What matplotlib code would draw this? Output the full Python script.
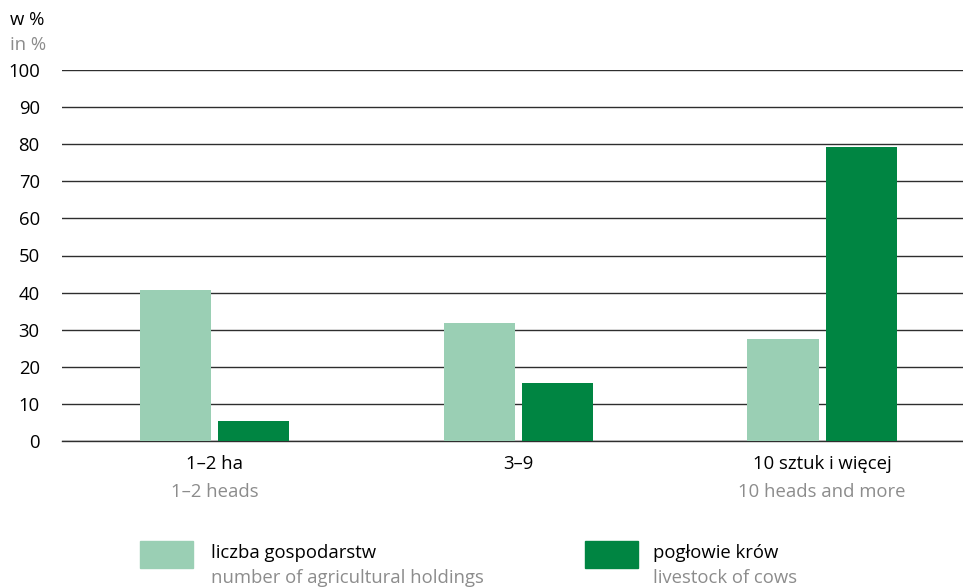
import matplotlib
matplotlib.use("Agg")
import matplotlib.pyplot as plt
import matplotlib.transforms as mtransforms
from matplotlib.patches import Rectangle
import numpy as np

plt.rcParams['font.family'] = ['Open Sans', 'DejaVu Sans']

# Dane
kategorie_pl = ['1–2 ha', '3–9', '10 sztuk i więcej']
kategorie_en = ['1–2 heads', '', '10 heads and more']
gospodarstwa = [40.6, 31.9, 27.5]
poglowie = [5.3, 15.6, 79.2]
seria_pl = ['liczba gospodarstw', 'pogłowie krów']
seria_en = ['number of agricultural holdings', 'livestock of cows']
yticks = list(range(0, 101, 10))

JASNY = '#9acfb4'
CIEMNY = '#008542'
SZARY = '#8c8c8c'
FS = 13.3

fig = plt.figure(figsize=(9.63, 5.87), dpi=100)
ax = fig.add_axes([62 / 963, 1 - 441 / 587, 1 - 62 / 963, (441 - 70) / 587])

x = np.arange(len(kategorie_pl))
w = 0.234
off = 0.1285
ax.bar(x - off, gospodarstwa, w, color=JASNY, zorder=3)
ax.bar(x + off, poglowie, w, color=CIEMNY, zorder=3)

ax.set_ylim(0, 100)
ax.set_xlim(-0.502, 2.464)
ax.set_yticks(yticks)
ax.set_yticklabels([str(t) for t in yticks], fontsize=FS)
ax.yaxis.grid(True, color='#2e2e2e', linewidth=1.0, zorder=0)
ax.tick_params(axis='y', length=0, pad=16)
ax.tick_params(axis='x', length=0)
ax.set_xticks([])
for s in ['top', 'right', 'left']:
    ax.spines[s].set_visible(False)
ax.spines['bottom'].set_color('#2e2e2e')
ax.spines['bottom'].set_linewidth(1.0)

# Etykiety kategorii
trans = mtransforms.blended_transform_factory(ax.transData, fig.transFigure)
for i in range(len(kategorie_pl)):
    ax.text(x[i], 1 - 464 / 587, kategorie_pl[i], transform=trans, ha='center', va='center',
            fontsize=FS, color='black')
    if kategorie_en[i]:
        ax.text(x[i], 1 - 492 / 587, kategorie_en[i], transform=trans, ha='center', va='center',
                fontsize=FS, color=SZARY)

# Jednostka
fig.text(10 / 963, 1 - 20 / 587, 'w %', fontsize=FS, va='center', color='black')
fig.text(10 / 963, 1 - 45 / 587, 'in %', fontsize=FS, va='center', color=SZARY)

# Legenda
leg = [(140, JASNY, 211), (585, CIEMNY, 653)]
for (sx, col, tx), pl, en in zip(leg, seria_pl, seria_en):
    fig.patches.append(Rectangle((sx / 963, 1 - 568 / 587), 53 / 963, 27 / 587,
                                 transform=fig.transFigure, color=col))
    fig.text(tx / 963, 1 - 553 / 587, pl, fontsize=FS, va='center', color='black')
    fig.text(tx / 963, 1 - 578 / 587, en, fontsize=FS, va='center', color=SZARY)

plt.savefig('out.png', dpi=100)
plt.close(fig)
